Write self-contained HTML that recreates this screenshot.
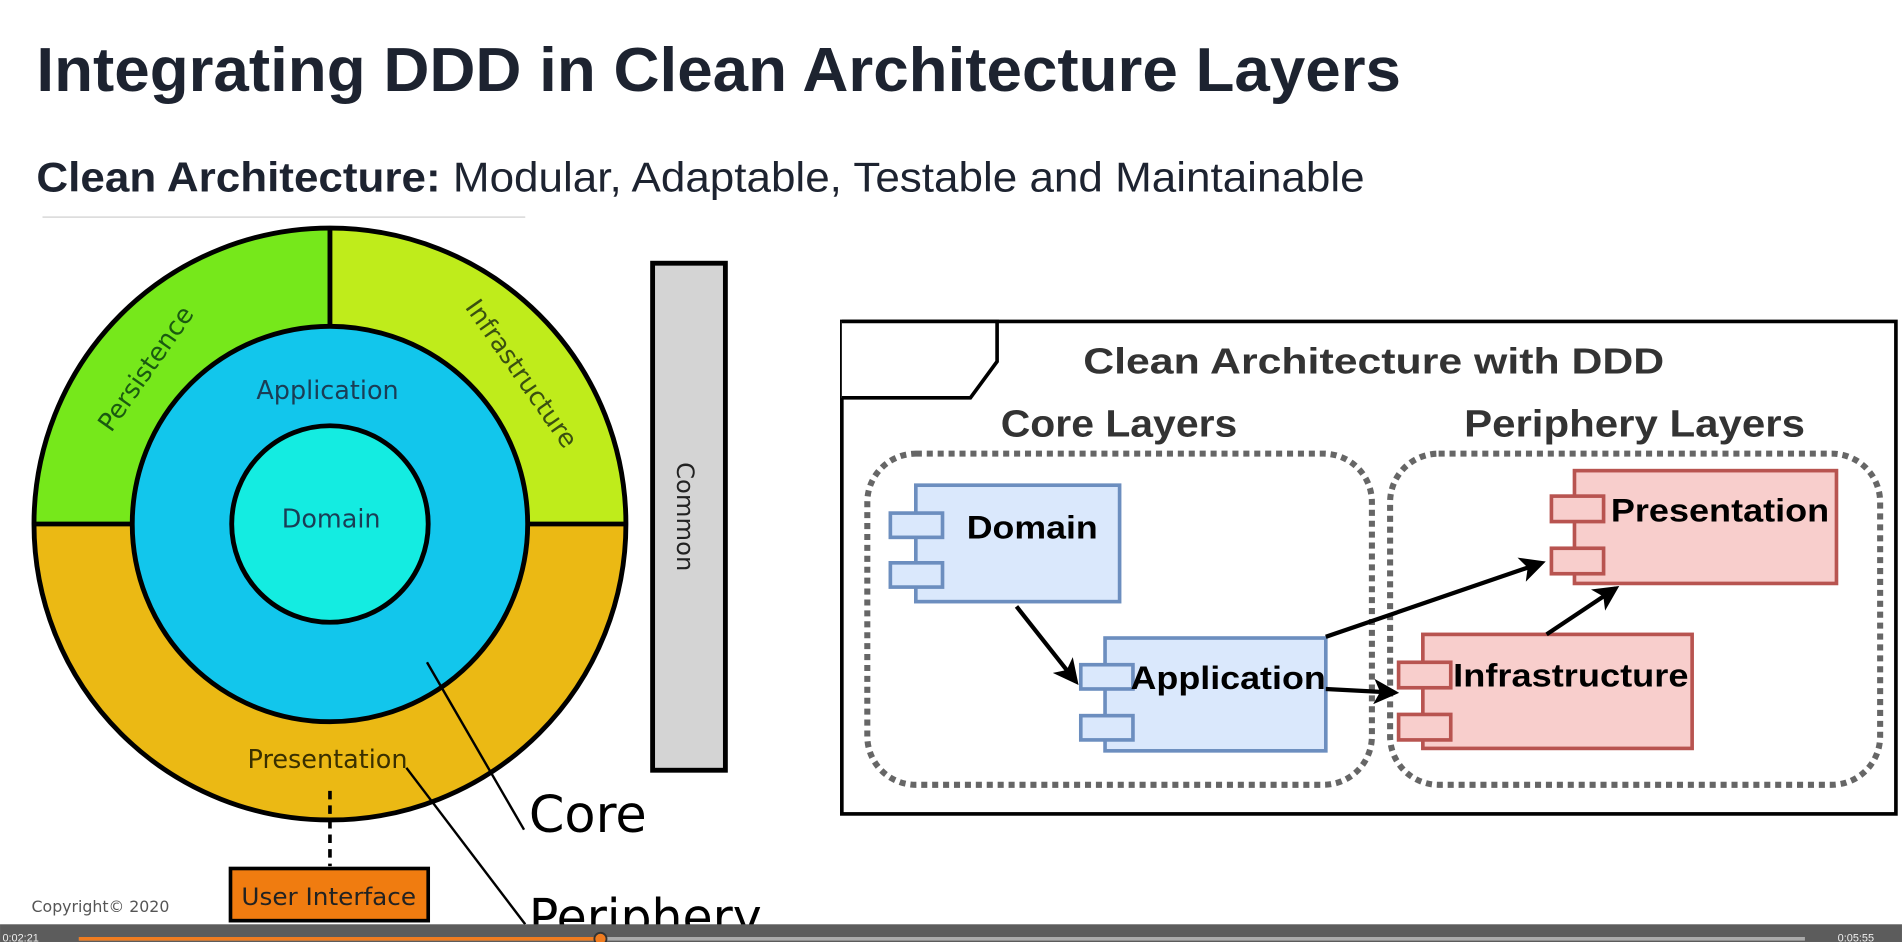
<!DOCTYPE html>
<html><head><meta charset="utf-8"><style>html,body{margin:0;padding:0;background:#fff;overflow:hidden}svg{display:block}</style></head>
<body>
<svg width="1902" height="942" viewBox="0 0 1568 776.6" xmlns="http://www.w3.org/2000/svg" font-family="Liberation Sans, Arial, sans-serif">
<rect width="1568" height="777" fill="#fff"/>
<text x="30" y="75" font-size="51" font-weight="bold" fill="#1d2330" textLength="1125" lengthAdjust="spacingAndGlyphs">Integrating DDD in Clean Architecture Layers</text>
<text x="30" y="158" font-size="34" fill="#1d2330" textLength="1095" lengthAdjust="spacingAndGlyphs"><tspan font-weight="bold">Clean Architecture:</tspan> Modular, Adaptable, Testable and Maintainable</text>
<line x1="35" y1="179" x2="433" y2="179" stroke="#ddd" stroke-width="1.5"/>
<!-- onion -->
<path d="M28,432 A244,244 0 0 1 272,188 L272,432 Z" fill="#76e81b"/>
<path d="M272,188 A244,244 0 0 1 516,432 L272,432 Z" fill="#bfec1b"/>
<path d="M28,432 A244,244 0 0 0 516,432 Z" fill="#ebb914"/>
<circle cx="272" cy="432" r="244" fill="none" stroke="#000" stroke-width="4"/>
<line x1="272" y1="188" x2="272" y2="432" stroke="#000" stroke-width="4"/>
<line x1="28" y1="432" x2="516" y2="432" stroke="#000" stroke-width="4"/>
<circle cx="272" cy="432" r="163" fill="#12c6ec" stroke="#000" stroke-width="4"/>
<circle cx="272" cy="432" r="81" fill="#14ece1" stroke="#000" stroke-width="4"/>
<g font-family="DejaVu Sans, Liberation Sans, sans-serif" font-size="21" text-anchor="middle" fill="#1a3d55">
<text x="270" y="329">Application</text>
<text x="273" y="435">Domain</text>
<text x="270" y="633" fill="#3a3000">Presentation</text>
<text transform="translate(126,308) rotate(-55)" fill="#1a5a10">Persistence</text>
<text transform="translate(424,312) rotate(55)" fill="#3a5010">Infrastructure</text>
</g>
<line x1="352" y1="546" x2="432" y2="684" stroke="#000" stroke-width="2"/>
<line x1="335" y1="633" x2="433" y2="762" stroke="#000" stroke-width="2"/>
<text x="436" y="686" font-family="DejaVu Sans, sans-serif" font-size="42" fill="#000">Core</text>
<text x="436" y="771" font-family="DejaVu Sans, sans-serif" font-size="42" fill="#000" textLength="192" lengthAdjust="spacingAndGlyphs">Periphery</text>
<line x1="272" y1="652" x2="272" y2="714" stroke="#000" stroke-width="3" stroke-dasharray="7,5"/>
<rect x="190" y="716" width="163" height="43" fill="#f07c10" stroke="#000" stroke-width="3"/>
<text x="271" y="746" font-family="DejaVu Sans, sans-serif" font-size="20" text-anchor="middle" fill="#222" textLength="144" lengthAdjust="spacingAndGlyphs">User Interface</text>
<text x="26" y="752" font-family="DejaVu Sans, sans-serif" font-size="13" fill="#555">Copyright© 2020</text>
<text x="26" y="772" font-family="DejaVu Sans, sans-serif" font-size="13" fill="#555">Jacobs Data Solutions</text>
<rect x="538" y="217" width="60" height="418" fill="#d4d4d4" stroke="#000" stroke-width="4"/>
<text transform="translate(558,426) rotate(90)" font-family="DejaVu Sans, sans-serif" font-size="20" text-anchor="middle" fill="#222">Common</text>
<!-- right diagram -->
<rect x="694" y="265" width="869" height="406" fill="#fff" stroke="#000" stroke-width="3"/>
<path d="M694,265 L822,265 L822,298 L800,328 L694,328" fill="#fff" stroke="#000" stroke-width="3"/>
<g font-weight="bold" fill="#333" lengthAdjust="spacingAndGlyphs">
<text x="893" y="308" font-size="30" textLength="479" lengthAdjust="spacingAndGlyphs">Clean Architecture with DDD</text>
<text x="825" y="360" font-size="31" textLength="195" lengthAdjust="spacingAndGlyphs">Core Layers</text>
<text x="1207" y="360" font-size="31" textLength="281" lengthAdjust="spacingAndGlyphs">Periphery Layers</text>
</g>
<rect x="715" y="374" width="416" height="273" rx="40" fill="none" stroke="#666" stroke-width="5" stroke-dasharray="5,4"/>
<rect x="1146" y="374" width="404" height="273" rx="40" fill="none" stroke="#666" stroke-width="5" stroke-dasharray="5,4"/>
<g stroke-width="3">
<rect x="755" y="400" width="168" height="96" fill="#dae8fc" stroke="#6c8ebf"/>
<rect x="734" y="423" width="43" height="20" fill="#dae8fc" stroke="#6c8ebf"/>
<rect x="734" y="464" width="43" height="20" fill="#dae8fc" stroke="#6c8ebf"/>
<rect x="911" y="526" width="182" height="93" fill="#dae8fc" stroke="#6c8ebf"/>
<rect x="891" y="548" width="43" height="20" fill="#dae8fc" stroke="#6c8ebf"/>
<rect x="891" y="590" width="43" height="20" fill="#dae8fc" stroke="#6c8ebf"/>
<rect x="1298" y="388" width="216" height="93" fill="#f8cecc" stroke="#b85450"/>
<rect x="1279" y="409" width="43" height="21" fill="#f8cecc" stroke="#b85450"/>
<rect x="1279" y="452" width="43" height="21" fill="#f8cecc" stroke="#b85450"/>
<rect x="1173" y="523" width="222" height="94" fill="#f8cecc" stroke="#b85450"/>
<rect x="1153" y="546" width="43" height="21" fill="#f8cecc" stroke="#b85450"/>
<rect x="1153" y="589" width="43" height="21" fill="#f8cecc" stroke="#b85450"/>
</g>
<g font-weight="bold" font-size="27" fill="#000">
<text x="797" y="444" textLength="108" lengthAdjust="spacingAndGlyphs">Domain</text>
<text x="932" y="568" textLength="161" lengthAdjust="spacingAndGlyphs">Application</text>
<text x="1328" y="430" textLength="180" lengthAdjust="spacingAndGlyphs">Presentation</text>
<text x="1198" y="566" textLength="194" lengthAdjust="spacingAndGlyphs">Infrastructure</text>
</g>
<defs><marker id="a" markerWidth="6" markerHeight="6" refX="5" refY="3" orient="auto" markerUnits="strokeWidth"><path d="M0,0 L6,3 L0,6 L1.5,3 Z" fill="#000"/></marker></defs>
<g stroke="#000" stroke-width="3.5" fill="none" marker-end="url(#a)">
<line x1="838" y1="500" x2="887" y2="562"/>
<line x1="1093" y1="525" x2="1271" y2="464"/>
<line x1="1093" y1="568" x2="1150" y2="571"/>
<line x1="1275" y1="523" x2="1332" y2="485"/>
</g>
<!-- video bar -->
<rect x="0" y="762" width="1568" height="15" fill="#5c5c5c"/>
<line x1="65" y1="774" x2="1488" y2="774" stroke="#aaa" stroke-width="3"/>
<line x1="65" y1="774" x2="495" y2="774" stroke="#f07c20" stroke-width="3"/>
<circle cx="495" cy="774" r="5" fill="#f07c20" stroke="#333" stroke-width="1.5"/>
<text x="2" y="776" font-size="9" fill="#eee">0:02:21</text>
<text x="1515" y="776" font-size="9" fill="#eee">0:05:55</text>
</svg>
</body></html>
